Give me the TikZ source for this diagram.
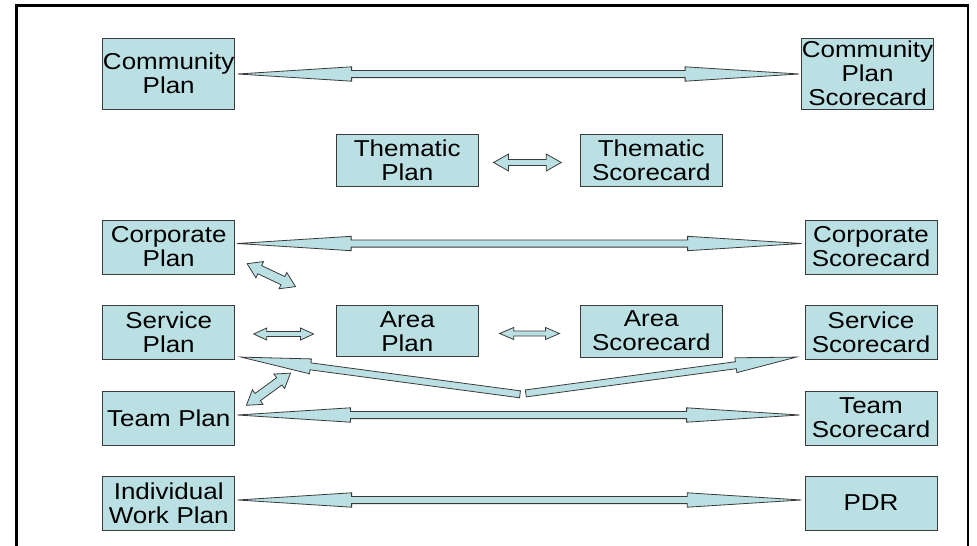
\documentclass[tikz,border=0pt]{standalone}
\usepackage{fontspec}
\setmainfont[FakeStretch=1.13]{Liberation Sans}
\usepackage{xcolor}
\usepackage{tikz}
\usetikzlibrary{calc}
\definecolor{plnFill}{HTML}{BBE0E3}
\definecolor{plnLine}{HTML}{3A3A3A}
\definecolor{plnFrame}{HTML}{000000}

% double headed block arrow: end, end, head length, head half width, shaft half width
\newcommand\dblarrow[5]{%
  \coordinate (ta) at (#1);
  \coordinate (tb) at (#2);
  \coordinate (ha) at ($(ta)!#3!(tb)$);
  \coordinate (hb) at ($(tb)!#3!(ta)$);
  \draw[blockarrow] (ta) -- ($(ha)!#4!90:(tb)$) -- ($(ha)!#5!90:(tb)$)
    -- ($(hb)!#5!-90:(ta)$) -- ($(hb)!#4!-90:(ta)$) -- (tb)
    -- ($(hb)!#4!90:(ta)$) -- ($(hb)!#5!90:(ta)$)
    -- ($(ha)!#5!-90:(tb)$) -- ($(ha)!#4!-90:(tb)$) -- cycle;
}
% single headed block arrow: tail, tip, head length, head half width, shaft half width
\newcommand\sglarrow[5]{%
  \coordinate (ta) at (#1);
  \coordinate (tb) at (#2);
  \coordinate (hb) at ($(tb)!#3!(ta)$);
  \draw[blockarrow] ($(ta)!#5!90:(tb)$) -- ($(hb)!#5!-90:(ta)$)
    -- ($(hb)!#4!-90:(ta)$) -- (tb) -- ($(hb)!#4!90:(ta)$)
    -- ($(hb)!#5!90:(ta)$) -- ($(ta)!#5!-90:(tb)$) -- cycle;
}

\begin{document}
\begin{tikzpicture}[
  x=1pt,y=-1pt,
  plan/.style={draw=plnLine,fill=plnFill,line width=.8pt,inner sep=0pt,
    align=center,minimum width=132pt,text width=132pt,minimum height=54pt,
    font=\fontsize{23}{24}\selectfont},
  wide/.style={minimum width=142.7pt,text width=142.7pt,minimum height=52pt},
  blockarrow/.style={draw=plnLine,fill=plnFill,line width=.8pt,line join=miter},
  frame/.style={draw=plnFrame,line width=2.6pt}
]
  \useasboundingbox (0,0) rectangle (977,546);
  \draw[frame] (16.7,560) -- (16.7,5.3) -- (968,5.3) -- (968,560);

  % left column
  \node[plan,minimum height=71pt] (cp) at (168.7,73.5) {Community\\Plan};
  \node[plan] (corp) at (168.7,247) {Corporate\\Plan};
  \node[plan] (serv) at (168.7,332.7) {Service\\Plan};
  \node[plan] (team) at (168.7,418) {Team Plan};
  \node[plan] (indiv) at (168.7,503) {Individual\\Work Plan};
  % middle
  \node[plan,wide] (tp) at (407.3,160) {Thematic\\Plan};
  \node[plan,wide] (ts) at (651.3,160) {Thematic\\Scorecard};
  \node[plan,wide,minimum height=51pt] (ap) at (407.3,331.2) {Area\\Plan};
  \node[plan,wide] (as) at (651.3,331) {Area\\Scorecard};
  % right column
  \node[plan,minimum height=71pt] (cps) at (867.5,73.5) {Community\\Plan\\Scorecard};
  \node[plan] (corps) at (871,247) {Corporate\\Scorecard};
  \node[plan] (servs) at (871,332.7) {Service\\Scorecard};
  \node[plan] (teams) at (871,418) {Team\\Scorecard};
  \node[plan] (pdr) at (871,503) {PDR};
  \coordinate (fork) at (522.9,393.8);

  % links
  \dblarrow{$(cp.east)+(2.5,0.5)$}{$(cps.west)+(-2,0.5)$}{114pt}{7.2pt}{3.6pt}
  \dblarrow{$(tp.east)+(14.5,2.5)$}{$(ts.west)+(-18.3,2.5)$}{15pt}{8.5pt}{3pt}
  \dblarrow{$(corp.east)+(2,-3.5)$}{$(corps.west)+(-3,-3.5)$}{114pt}{7.2pt}{3.6pt}
  \dblarrow{$(corp.south east)+(12,-10.7)$}{$(ap.north west)+(-40,-18.7)$}{14pt}{9pt}{4.5pt}
  \dblarrow{$(serv.east)+(18.6,1.3)$}{$(ap.west)+(-22,2.8)$}{13pt}{6pt}{2.5pt}
  \dblarrow{$(ap.east)+(20.6,2.3)$}{$(as.west)+(-20,2.5)$}{14pt}{6pt}{2.5pt}
  \dblarrow{$(team.north east)+(11.3,14.7)$}{$(ap.south west)+(-45,16)$}{14pt}{9pt}{4.5pt}
  \sglarrow{$(fork)+(-2.9,0.5)$}{$(serv.south east)+(6,-3)$}{70pt}{7.5pt}{3.5pt}
  \sglarrow{$(fork)+(2.9,-0.4)$}{$(servs.south west)+(-8.3,-3)$}{61pt}{7.5pt}{3.5pt}
  \dblarrow{$(team.east)+(2.3,-3)$}{$(teams.west)+(-5,-3)$}{113pt}{7.2pt}{3.6pt}
  \dblarrow{$(indiv.east)+(2.5,-3)$}{$(pdr.west)+(-3.3,-3)$}{114pt}{7.2pt}{3.6pt}
\end{tikzpicture}
\end{document}
